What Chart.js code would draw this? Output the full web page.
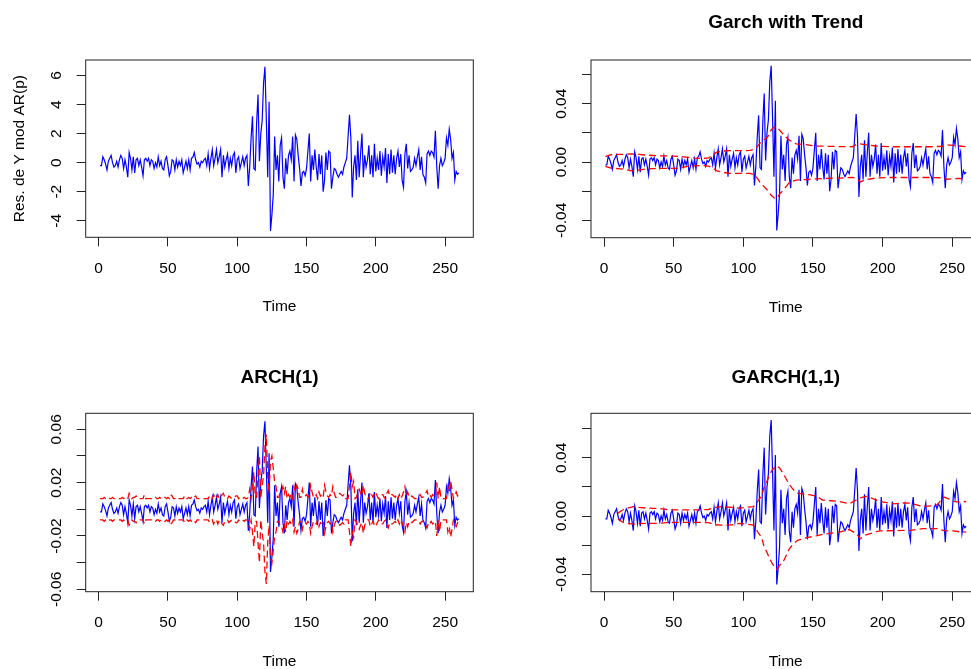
<!DOCTYPE html>
<html>
<head>
<meta charset="utf-8">
<title>Residuos y bandas de volatilidad</title>
<script src="https://cdn.jsdelivr.net/npm/chart.js@4.4.1/dist/chart.umd.min.js"></script>
<style>
  html, body { margin: 0; padding: 0; background: #fff; }
  body { width: 971px; height: 669px; overflow: hidden; position: relative; }
  canvas { position: absolute; }
</style>
</head>
<body>
<canvas id="p1" width="490" height="335" style="left:0;top:0"></canvas>
<canvas id="p2" width="500" height="335" style="left:490px;top:0"></canvas>
<canvas id="p3" width="490" height="345" style="left:0;top:335px"></canvas>
<canvas id="p4" width="500" height="345" style="left:490px;top:335px"></canvas>
<script>
// time axis ticks
const timeTicks = [0, 50, 100, 150, 200, 250];

// residuals of Y on AR(p), t = 1..260 (in %, so 1 = 0.01 on the return panels)
const residuals = [
  -0.2, -0.2, 0.4, 0.2, -0.1, -0.5, 0.1, 0.3, 0.5, 0.0,
  -0.3, -0.2, 0.1, -0.3, 0.2, 0.5, 0.3, -0.4, 0.2, -0.3,
  -1.0, 0.7, 0.3, -0.5, 0.4, -0.7, 0.2, 0.3, -0.2, 0.2,
  -0.3, -0.9, 0.2, 0.3, 0.1, 0.3, -0.2, 0.2, 0.1, -0.4,
  0.0, -0.3, 0.4, -0.2, 0.1, -0.4, -0.5, 0.2, 0.4, -0.2,
  -0.9, -0.6, 0.2, 0.1, -0.5, 0.2, -0.3, 0.1, -0.2, 0.2,
  -0.7, -0.3, 0.1, -0.4, 0.2, -0.5, 0.3, 0.4, 0.7, 0.2,
  -0.1, 0.0, -0.3, 0.1, 0.0, 0.2, 0.3, -0.2, 0.6, -0.4,
  0.3, 0.9, -0.2, 0.3, 0.9, 0.0, 0.4, 0.9, -1.0, 0.5,
  -0.3, 0.2, 0.6, -0.4, 0.3, -0.2, 0.5, 0.7, -0.7, 0.2,
  0.4, -0.4, 0.0, 0.4, -0.2, 0.3, 0.5, -1.6, -0.3, 1.7,
  3.2, -0.4, -0.5, 2.8, 4.7, 0.1, 2.0, 2.9, 5.5, 6.6,
  3.0, -1.0, 4.2, -4.7, -3.6, -2.2, 1.8, -0.5, 0.5, -1.3,
  1.2, 1.7, -1.0, -1.8, 0.3, -0.8, 0.5, 0.8, 0.2, 1.8,
  -1.3, 1.9, 1.6, 0.5, -0.4, -1.6, -0.7, -0.6, -0.9, -0.4,
  0.8, 2.0, -1.3, 0.5, -0.5, 0.9, -0.3, -1.2, 0.6, -0.8,
  0.5, -2.0, -1.2, 0.7, -0.5, 0.8, 0.7, -1.8, -1.0, -0.4,
  -0.5, -0.8, -1.0, -0.8, -0.6, -0.8, -0.3, 0.0, 0.3, 1.8,
  3.3, 1.7, -2.4, -0.3, 0.5, -1.2, 1.5, -1.0, 0.6, 2.0,
  -1.0, 0.5, -0.3, 0.2, 1.2, -0.8, 0.5, -1.0, 1.3, -0.6,
  0.3, -0.5, 0.8, -0.9, 0.4, -0.3, 1.0, -1.4, 0.6, -0.8,
  0.9, -0.7, 0.5, -0.8, 0.3, 0.8, -0.3, 0.6, -1.2, -1.7,
  0.6, 1.3, -0.4, 0.5, -0.6, -0.5, -0.3, 0.3, -0.2, 0.4,
  0.9, -0.5, 0.4, -0.8, -1.0, -1.4, 0.6, 0.8, 0.5, 0.8,
  0.7, 0.4, 2.2, -0.3, -1.8, -0.2, 0.3, -0.2, 0.0, 0.3,
  1.7, 1.2, 2.3, 1.6, 0.3, 0.7, -1.2, -0.6, -0.8, -0.7
];

// Garch with Trend bands (read every few steps)
const trendTimes = [1, 5, 10, 15, 20, 25, 30, 35, 40, 45, 50, 55, 60, 65, 70, 75, 78, 81, 85, 90,
  95, 100, 105, 108, 110, 112, 114, 116, 118, 120, 122, 124, 126, 129, 133, 138, 145, 152, 160, 170,
  178, 181, 184, 188, 195, 205, 215, 225, 235, 243, 246, 250, 255, 260];
const trendUpper = [0.37, 0.50, 0.52, 0.53, 0.55, 0.52, 0.48, 0.45, 0.42, 0.42, 0.40, 0.38, 0.32, 0.27, 0.25, 0.28, 0.50, 0.68, 0.75, 0.78,
  0.78, 0.78, 0.80, 0.88, 1.05, 1.30, 1.50, 1.60, 1.80, 2.20, 2.40, 2.40, 2.20, 1.86, 1.50, 1.25, 1.20, 1.10, 1.08, 1.06,
  1.05, 1.20, 1.25, 1.18, 1.10, 1.05, 1.05, 1.05, 1.05, 1.08, 1.18, 1.15, 1.10, 1.05];
const trendLower = [-0.30, -0.42, -0.45, -0.50, -0.60, -0.55, -0.47, -0.45, -0.44, -0.44, -0.44, -0.40, -0.30, -0.26, -0.24, -0.28, -0.40, -0.60, -0.70, -0.77,
  -0.78, -0.78, -0.78, -0.88, -1.10, -1.40, -1.60, -1.80, -2.00, -2.28, -2.45, -2.50, -2.20, -1.90, -1.40, -1.24, -1.20, -1.15, -1.12, -1.10,
  -1.05, -1.10, -1.36, -1.20, -1.10, -1.06, -1.06, -1.06, -1.06, -1.08, -1.18, -1.15, -1.12, -1.20];

// ARCH(1) bands, t = 1..260
const archUpper = [
  0.8, 0.8, 0.8, 0.9, 0.8, 0.8, 0.9, 0.8, 0.8, 0.9,
  0.8, 0.8, 0.8, 0.8, 0.8, 0.8, 0.9, 0.8, 0.9, 0.8,
  0.8, 1.2, 1.0, 0.8, 0.9, 0.9, 1.0, 0.8, 0.8, 0.8,
  0.8, 0.8, 1.1, 0.8, 0.8, 0.8, 0.8, 0.8, 0.8, 0.8,
  0.9, 0.8, 0.8, 0.9, 0.8, 0.8, 0.9, 0.9, 0.8, 0.9,
  0.8, 1.1, 1.0, 0.8, 0.8, 0.9, 0.8, 0.8, 0.8, 0.8,
  0.8, 1.0, 0.8, 0.8, 0.9, 0.8, 0.9, 0.8, 0.9, 1.0,
  0.8, 0.8, 0.8, 0.8, 0.8, 0.8, 0.8, 0.8, 0.8, 1.0,
  0.9, 0.8, 1.1, 0.8, 0.8, 1.1, 0.8, 0.9, 1.1, 1.2,
  0.9, 0.8, 0.8, 1.0, 0.9, 0.8, 0.8, 0.9, 1.0, 1.0,
  0.8, 0.9, 0.9, 0.8, 0.9, 0.8, 0.8, 0.9, 1.5, 0.8,
  1.7, 2.8, 0.9, 0.9, 2.5, 4.0, 0.8, 1.8, 2.5, 4.7,
  5.6, 2.5, 1.2, 3.6, 4.0, 3.1, 2.0, 1.7, 0.9, 0.9,
  1.3, 1.3, 1.7, 1.2, 1.7, 0.8, 1.1, 0.9, 1.1, 0.8,
  1.7, 1.3, 1.8, 1.5, 0.9, 0.9, 1.5, 1.0, 1.0, 1.1,
  0.9, 1.1, 1.8, 1.3, 0.9, 0.9, 1.1, 0.8, 1.3, 1.0,
  1.1, 0.9, 1.8, 1.3, 1.0, 0.9, 1.1, 1.0, 1.7, 1.2,
  0.9, 0.9, 1.1, 1.2, 1.1, 1.0, 1.1, 0.8, 0.8, 0.8,
  1.7, 2.8, 1.7, 2.1, 0.8, 0.9, 1.3, 1.5, 1.2, 1.0,
  1.8, 1.2, 0.9, 0.8, 0.8, 1.3, 1.1, 0.9, 1.2, 1.3,
  1.0, 0.8, 0.9, 1.1, 1.1, 0.9, 0.8, 1.2, 1.4, 1.0,
  1.1, 1.1, 1.0, 0.9, 1.1, 0.8, 1.1, 0.8, 1.0, 1.3,
  1.7, 1.0, 1.3, 0.9, 0.9, 1.0, 0.9, 0.8, 0.8, 0.8,
  0.9, 1.1, 0.9, 0.9, 1.1, 1.2, 1.4, 1.0, 1.1, 0.9,
  1.1, 1.0, 0.9, 2.0, 0.8, 1.7, 0.8, 0.8, 0.8, 0.8,
  0.8, 1.7, 1.3, 2.1, 1.5, 0.8, 1.0, 1.3, 1.0, 1.1
];
const archLower = [
  -0.8, -0.8, -0.8, -0.9, -0.8, -0.8, -0.9, -0.8, -0.8, -0.9,
  -0.8, -0.8, -0.8, -0.8, -0.8, -0.8, -0.9, -0.8, -0.9, -0.8,
  -0.8, -1.2, -1.0, -0.8, -0.9, -0.9, -1.0, -0.8, -0.8, -0.8,
  -0.8, -0.8, -1.1, -0.8, -0.8, -0.8, -0.8, -0.8, -0.8, -0.8,
  -0.9, -0.8, -0.8, -0.9, -0.8, -0.8, -0.9, -0.9, -0.8, -0.9,
  -0.8, -1.1, -1.0, -0.8, -0.8, -0.9, -0.8, -0.8, -0.8, -0.8,
  -0.8, -1.0, -0.8, -0.8, -0.9, -0.8, -0.9, -0.8, -0.9, -1.0,
  -0.8, -0.8, -0.8, -0.8, -0.8, -0.8, -0.8, -0.8, -0.8, -1.0,
  -0.9, -0.8, -1.1, -0.8, -0.8, -1.1, -0.8, -0.9, -1.1, -1.2,
  -0.9, -0.8, -0.8, -1.0, -0.9, -0.8, -0.8, -0.9, -1.0, -1.0,
  -0.8, -0.9, -0.9, -0.8, -0.9, -0.8, -0.8, -0.9, -1.5, -0.8,
  -1.7, -2.8, -0.9, -0.9, -2.5, -4.0, -0.8, -1.8, -2.5, -4.7,
  -5.6, -2.5, -1.2, -3.6, -4.0, -3.1, -2.0, -1.7, -0.9, -0.9,
  -1.3, -1.3, -1.7, -1.2, -1.7, -0.8, -1.1, -0.9, -1.1, -0.8,
  -1.7, -1.3, -1.8, -1.5, -0.9, -0.9, -1.5, -1.0, -1.0, -1.1,
  -0.9, -1.1, -1.8, -1.3, -0.9, -0.9, -1.1, -0.8, -1.3, -1.0,
  -1.1, -0.9, -1.8, -1.3, -1.0, -0.9, -1.1, -1.0, -1.7, -1.2,
  -0.9, -0.9, -1.1, -1.2, -1.1, -1.0, -1.1, -0.8, -0.8, -0.8,
  -1.7, -2.8, -1.7, -2.1, -0.8, -0.9, -1.3, -1.5, -1.2, -1.0,
  -1.8, -1.2, -0.9, -0.8, -0.8, -1.3, -1.1, -0.9, -1.2, -1.3,
  -1.0, -0.8, -0.9, -1.1, -1.1, -0.9, -0.8, -1.2, -1.4, -1.0,
  -1.1, -1.1, -1.0, -0.9, -1.1, -0.8, -1.1, -0.8, -1.0, -1.3,
  -1.7, -1.0, -1.3, -0.9, -0.9, -1.0, -0.9, -0.8, -0.8, -0.8,
  -0.9, -1.1, -0.9, -0.9, -1.1, -1.2, -1.4, -1.0, -1.1, -0.9,
  -1.1, -1.0, -0.9, -2.0, -0.8, -1.7, -0.8, -0.8, -0.8, -0.8,
  -0.8, -1.7, -1.3, -2.1, -1.5, -0.8, -1.0, -1.3, -1.0, -1.1
];

// GARCH(1,1) bands (read every few steps)
const garchTimes = [10, 13, 17, 21, 25, 30, 35, 40, 45, 50, 55, 60, 65, 70, 75, 80, 84, 88, 92, 97,
  102, 107, 109, 111, 113, 115, 117, 119, 121, 124, 126, 129, 133, 136, 139, 143, 148, 153, 157, 163,
  169, 176, 181, 184, 188, 193, 198, 208, 215, 220, 229, 235, 239, 244, 247, 251, 255, 260];
const garchUpper = [0.20, 0.40, 0.55, 0.65, 0.60, 0.55, 0.53, 0.52, 0.45, 0.43, 0.42, 0.42, 0.42, 0.43, 0.45, 0.60, 0.65, 0.62, 0.60, 0.55,
  0.60, 0.65, 0.77, 1.10, 1.35, 2.00, 2.40, 2.86, 3.20, 3.45, 3.30, 2.86, 2.16, 1.80, 1.58, 1.50, 1.46, 1.35, 1.10, 1.05,
  1.00, 0.84, 1.10, 1.25, 1.35, 1.20, 1.00, 0.84, 0.90, 0.88, 0.65, 0.70, 0.77, 1.30, 1.20, 1.00, 0.95, 1.00];
const garchLower = [-0.20, -0.40, -0.50, -0.56, -0.52, -0.51, -0.50, -0.50, -0.45, -0.44, -0.44, -0.44, -0.44, -0.44, -0.45, -0.60, -0.63, -0.62, -0.60, -0.51,
  -0.55, -0.63, -0.86, -1.20, -1.44, -2.14, -2.50, -2.95, -3.30, -3.65, -3.40, -3.07, -2.26, -1.90, -1.67, -1.55, -1.44, -1.35, -1.26, -1.18,
  -1.10, -0.93, -1.20, -1.56, -1.30, -1.15, -1.02, -1.00, -0.99, -0.98, -0.86, -0.86, -0.86, -1.00, -1.02, -1.02, -1.08, -1.10];

// y ticks and their printed labels (empty = tick without label, as R drops it)
const resTicks = [-4, -2, 0, 2, 4, 6];
const resLabels = ['-4', '-2', '0', '2', '4', '6'];
const retTicks = [-4, -2, 0, 2, 4, 6];
const retLabels = ['-0.04', '', '0.00', '', '0.04', ''];
const archTicks = [-6, -4, -2, 0, 2, 4, 6];
const archLabels = ['-0.06', '', '-0.02', '', '0.02', '', '0.06'];

const FONT = "'Liberation Sans', Arial, sans-serif";
const INK = '#222';
const AXIS_H = 79;

function series(values) {
  return values.map((v, i) => ({x: i + 1, y: v}));
}

function pairs(times, values) {
  return times.map((t, i) => ({x: t, y: values[i]}));
}

function blueLine(data) {
  return {data: data, borderColor: '#0000ff', borderWidth: 1.2, pointRadius: 0, tension: 0, fill: false, order: 1};
}

function redDash(data) {
  return {data: data, borderColor: '#ff0000', borderWidth: 1.3, borderDash: [7, 4], pointRadius: 0, tension: 0, fill: false, order: 0};
}

// box round the plot and the vertical y tick labels, like base R graphics
function rAxes(ticks, labels) {
  return {
    id: 'rAxes',
    afterDraw(chart) {
      const ctx = chart.ctx;
      const area = chart.chartArea;
      const y = chart.scales.y;
      ctx.save();
      ctx.strokeStyle = INK;
      ctx.lineWidth = 1;
      ctx.strokeRect(area.left, area.top, area.right - area.left, area.bottom - area.top);
      ctx.fillStyle = '#000';
      ctx.font = '15.5px ' + FONT;
      ctx.textAlign = 'center';
      ctx.textBaseline = 'middle';
      ticks.forEach((v, i) => {
        if (!labels[i]) return;
        ctx.save();
        ctx.translate(area.left - 29, y.getPixelForValue(v));
        ctx.rotate(-Math.PI / 2);
        ctx.fillText(labels[i], 0, 0);
        ctx.restore();
      });
      ctx.restore();
    }
  };
}

function panel(id, cfg) {
  const canvas = document.getElementById(id);
  const W = canvas.width;
  const H = canvas.height;
  const box = cfg.box;
  const titled = !!cfg.title;
  const tickFont = {family: FONT, size: 15.5};
  const grid = {display: true, drawOnChartArea: false, drawTicks: true, tickLength: 9, color: INK, tickColor: INK, lineWidth: 1};

  return new Chart(canvas, {
    type: 'line',
    data: {datasets: cfg.datasets},
    plugins: [rAxes(cfg.yTicks, cfg.yLabels)],
    options: {
      responsive: false,
      animation: false,
      events: [],
      layout: {padding: {left: 0, right: W - box.right, top: titled ? 0 : box.top, bottom: H - box.bottom - AXIS_H}},
      plugins: {
        legend: {display: false},
        tooltip: {enabled: false},
        title: {
          display: titled,
          text: cfg.title || '',
          fullSize: false,
          color: '#000',
          font: {family: FONT, size: 19, weight: 'bold'},
          padding: {top: (cfg.titleY || 0) - 11.4, bottom: box.top - (cfg.titleY || 0) - 11.4}
        }
      },
      scales: {
        x: {
          type: 'linear',
          min: -9.36,
          max: 270.36,
          afterBuildTicks: s => { s.ticks = timeTicks.map(v => ({value: v})); },
          afterFit: s => { s.height = AXIS_H; },
          grid: grid,
          border: {display: false},
          ticks: {font: tickFont, color: '#000', padding: 12.7, maxRotation: 0, autoSkip: false},
          title: {display: true, text: 'Time', font: tickFont, color: '#000', padding: {top: 0, bottom: 0}}
        },
        y: {
          type: 'linear',
          min: cfg.yMin,
          max: cfg.yMax,
          afterBuildTicks: s => { s.ticks = cfg.yTicks.map(v => ({value: v})); },
          afterFit: s => { s.width = box.left; },
          grid: grid,
          border: {display: false},
          ticks: {display: false},
          title: {display: !!cfg.yTitle, text: cfg.yTitle || '', font: tickFont, color: '#000', padding: {top: 10.7, bottom: 0}}
        }
      }
    }
  });
}

panel('p1', {
  box: {left: 85.7, top: 60, right: 473.3, bottom: 237.3},
  yMin: -5.14, yMax: 7.07,
  yTicks: resTicks, yLabels: resLabels,
  yTitle: 'Res. de Y mod AR(p)',
  datasets: [blueLine(series(residuals))]
});

panel('p2', {
  box: {left: 101, top: 60, right: 490.6, bottom: 237.7},
  title: 'Garch with Trend', titleY: 22.7,
  yMin: -5.19, yMax: 7.0,
  yTicks: retTicks, yLabels: retLabels,
  datasets: [
    redDash(pairs(trendTimes, trendUpper)),
    redDash(pairs(trendTimes, trendLower)),
    blueLine(series(residuals))
  ]
});

panel('p3', {
  box: {left: 85.7, top: 78.3, right: 473.3, bottom: 256.7},
  title: 'ARCH(1)', titleY: 42.3,
  yMin: -6.18, yMax: 7.2,
  yTicks: archTicks, yLabels: archLabels,
  datasets: [
    redDash(series(archUpper)),
    redDash(series(archLower)),
    blueLine(series(residuals))
  ]
});

panel('p4', {
  box: {left: 101, top: 78.3, right: 490.6, bottom: 256.7},
  title: 'GARCH(1,1)', titleY: 42.3,
  yMin: -5.2, yMax: 7.06,
  yTicks: retTicks, yLabels: retLabels,
  datasets: [
    redDash(pairs(garchTimes, garchUpper)),
    redDash(pairs(garchTimes, garchLower)),
    blueLine(series(residuals))
  ]
});
</script>
</body>
</html>
